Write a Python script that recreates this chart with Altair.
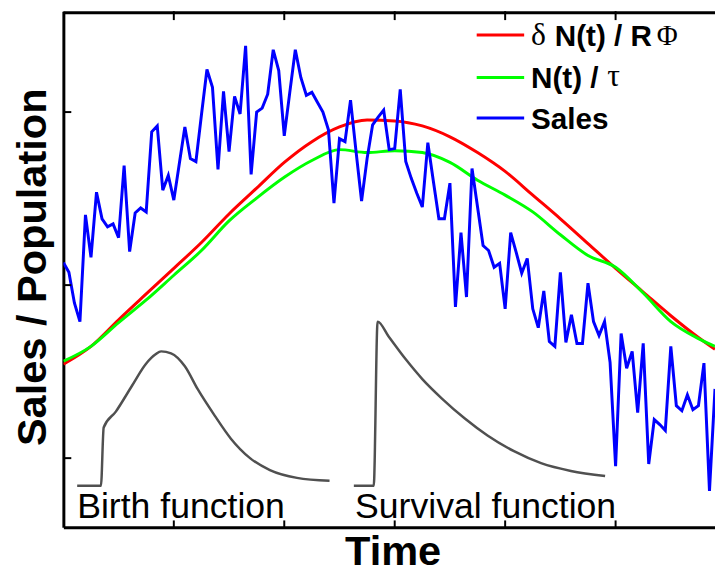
import altair as alt
import pandas as pd

# ---------------- data ----------------
# Sales / population, one sample per time step (t = 0 .. 118)
sales = [1.131, 1.074, 0.897, 0.789, 1.406, 1.160, 1.537, 1.383, 1.337, 1.354,
         1.274, 1.691, 1.194, 1.417, 1.446, 1.423, 1.886, 1.920, 1.549, 1.634,
         1.491, 1.703, 1.914, 1.731, 1.714, 1.983, 2.246, 2.143, 1.669, 2.120,
         1.771, 2.091, 1.989, 2.383, 1.640, 2.000, 2.023, 2.103, 2.360, 2.240,
         1.863, 2.114, 2.360, 2.200, 2.097, 2.114, 2.057, 2.000, 1.897, 1.474,
         1.846, 1.829, 2.069, 1.771, 1.486, 1.731, 1.926, 1.971, 2.011, 1.783,
         1.789, 2.131, 1.714, 1.617, 1.531, 1.451, 1.823, 1.600, 1.383, 1.383,
         1.589, 0.874, 1.303, 0.931, 1.674, 1.451, 1.229, 1.200, 1.103, 1.126,
         0.863, 1.303, 1.189, 1.069, 1.154, 0.863, 0.754, 0.966, 0.674, 0.646,
         1.074, 0.669, 0.829, 0.663, 0.663, 1.011, 0.789, 0.709, 0.789, 0.554,
         -0.046, 0.720, 0.520, 0.617, 0.263, 0.663, -0.034, 0.223, 0.194, 0.160,
         0.646, 0.303, 0.274, 0.366, 0.280, 0.303, 0.549, -0.189, 0.400]
sales_time = list(range(len(sales)))

# Smooth model curves, read every 5 time steps
curve_time = [0, 5, 10, 15, 20, 25, 30, 35, 40, 45, 50, 55, 60, 65, 70, 75,
              80, 85, 90, 95, 100, 105, 110, 115, 118]
delta_n_over_rphi = [0.543, 0.646, 0.800, 0.949, 1.097, 1.246, 1.411, 1.560,
                     1.709, 1.829, 1.914, 1.954, 1.949, 1.920, 1.857, 1.766,
                     1.657, 1.520, 1.383, 1.240, 1.097, 0.960, 0.823, 0.697, 0.629]
n_over_tau = [0.560, 0.646, 0.783, 0.914, 1.057, 1.200, 1.371, 1.503, 1.623,
              1.720, 1.783, 1.766, 1.777, 1.766, 1.709, 1.606, 1.520, 1.423,
              1.291, 1.171, 1.103, 0.954, 0.789, 0.691, 0.646]

# Inset sketches
birth_time = [2.5, 6.8, 7.3, 9.5, 12.4, 14.9, 16.7, 17.7, 19.5, 22.0, 24.3,
              27.4, 30.3, 33.8, 37.4, 42.3, 48.2]
birth_value = [-0.160, -0.160, 0.177, 0.269, 0.417, 0.543, 0.600, 0.617, 0.606,
               0.531, 0.400, 0.246, 0.114, 0.000, -0.069, -0.114, -0.131]
survival_time = [52.6, 56.2, 56.9, 58.9, 62.0, 65.0, 68.6, 72.7, 76.8, 81.6,
                 86.5, 91.9, 98.1]
survival_value = [-0.160, -0.160, 0.789, 0.703, 0.571, 0.457, 0.343, 0.229,
                  0.131, 0.040, -0.029, -0.074, -0.103]

x_tick_values = [20, 40, 60, 80, 100]
y_tick_values = [0, 1, 2]

series_colors = ["#ff0000", "#00ff00", "#0000ff"]

# ---------------- chart ----------------
W, H = 659, 522
SANS = "Liberation Sans"
SERIF = "Liberation Serif"

x_scale = alt.Scale(domain=[0, 118], nice=False, zero=False)
y_scale = alt.Scale(domain=[-0.4, 2.583], nice=False, zero=False)

x_axis = alt.Axis(title="Time", labels=False, ticks=False, grid=False,
                  domainColor="black", domainWidth=3,
                  titleFont=SANS, titleFontSize=42, titleFontWeight="bold",
                  titleColor="black", titleX=333, titleY=38,
                  titleAlign="center", titleBaseline="alphabetic")
y_axis = alt.Axis(title="Sales / Population", labels=False, ticks=False, grid=False,
                  domainColor="black", domainWidth=3,
                  titleFont=SANS, titleFontSize=42, titleFontWeight="bold",
                  titleColor="black", titleAngle=270, titleX=-18, titleY=258.5,
                  titleAlign="center", titleBaseline="alphabetic")

X = alt.X("t:Q", scale=x_scale, axis=x_axis)
Y = alt.Y("v:Q", scale=y_scale, axis=y_axis)


def line(ts, vs, color, width, interp="linear"):
    df = pd.DataFrame({"t": ts, "v": vs})
    return alt.Chart(df).mark_line(color=color, strokeWidth=width, clip=True,
                                   interpolate=interp).encode(x=X, y=Y)


birth = line(birth_time, birth_value, "#505050", 2.5, "monotone")
survival = line(survival_time, survival_value, "#505050", 2.5, "monotone")
red = line(curve_time, delta_n_over_rphi, series_colors[0], 3, "monotone")
green = line(curve_time, n_over_tau, series_colors[1], 3, "monotone")
blue = line(sales_time, sales, series_colors[2], 3)

one = pd.DataFrame({"a": [0]})

# inward tick marks and top frame
xt = pd.DataFrame({"t": x_tick_values})
yt = pd.DataFrame({"v": y_tick_values})
bottom_ticks = alt.Chart(xt).mark_rule(color="black", strokeWidth=2).encode(
    x=X, y=alt.value(H), y2=alt.value(H - 7))
top_ticks = alt.Chart(xt).mark_rule(color="black", strokeWidth=2).encode(
    x=X, y=alt.value(0), y2=alt.value(9))
left_ticks = alt.Chart(yt).mark_rule(color="black", strokeWidth=2).encode(
    y=Y, x=alt.value(0), x2=alt.value(8))
top_frame = alt.Chart(one).mark_rule(color="black", strokeWidth=3).encode(
    x=alt.value(0), x2=alt.value(W), y=alt.value(1.5))

# legend
legend_rows = [24, 67, 108]
legend_layers = []
for color, ry in zip(series_colors, legend_rows):
    legend_layers.append(alt.Chart(one).mark_rule(color=color, strokeWidth=3).encode(
        x=alt.value(418), x2=alt.value(466), y=alt.value(ry)))


def txt(s, x, y, size, font=SANS, weight="bold"):
    return alt.Chart(one).mark_text(text=s, align="left", baseline="alphabetic",
                                    font=font, fontSize=size, fontWeight=weight,
                                    color="black").encode(x=alt.value(x), y=alt.value(y))


legend_layers += [
    txt("δ", 473, legend_rows[0] + 10, 32, SERIF, "normal"),
    txt("N(t) / R", 497, legend_rows[0] + 11, 30),
    txt("Φ", 600, legend_rows[0] + 10, 29, SERIF, "normal"),
    txt("N(t) / ", 473, legend_rows[1] + 11, 30),
    txt("τ", 550, legend_rows[1] + 9, 32, SERIF, "normal"),
    txt("Sales", 473, legend_rows[2] + 11, 30),
]

notes = [
    txt("Birth function", 14, 513, 36, SANS, "normal"),
    txt("Survival function", 295, 513, 36, SANS, "normal"),
]

chart = alt.layer(
    birth, survival, red, green, blue,
    bottom_ticks, top_ticks, left_ticks, top_frame,
    *legend_layers, *notes,
).properties(
    width=W, height=H,
    autosize=alt.AutoSizeParams(type="none"),
    padding={"left": 56, "top": 0, "right": 0, "bottom": 49},
).configure_view(stroke="transparent")

chart.save("out.html", embed_options={"renderer": "svg", "actions": False})
